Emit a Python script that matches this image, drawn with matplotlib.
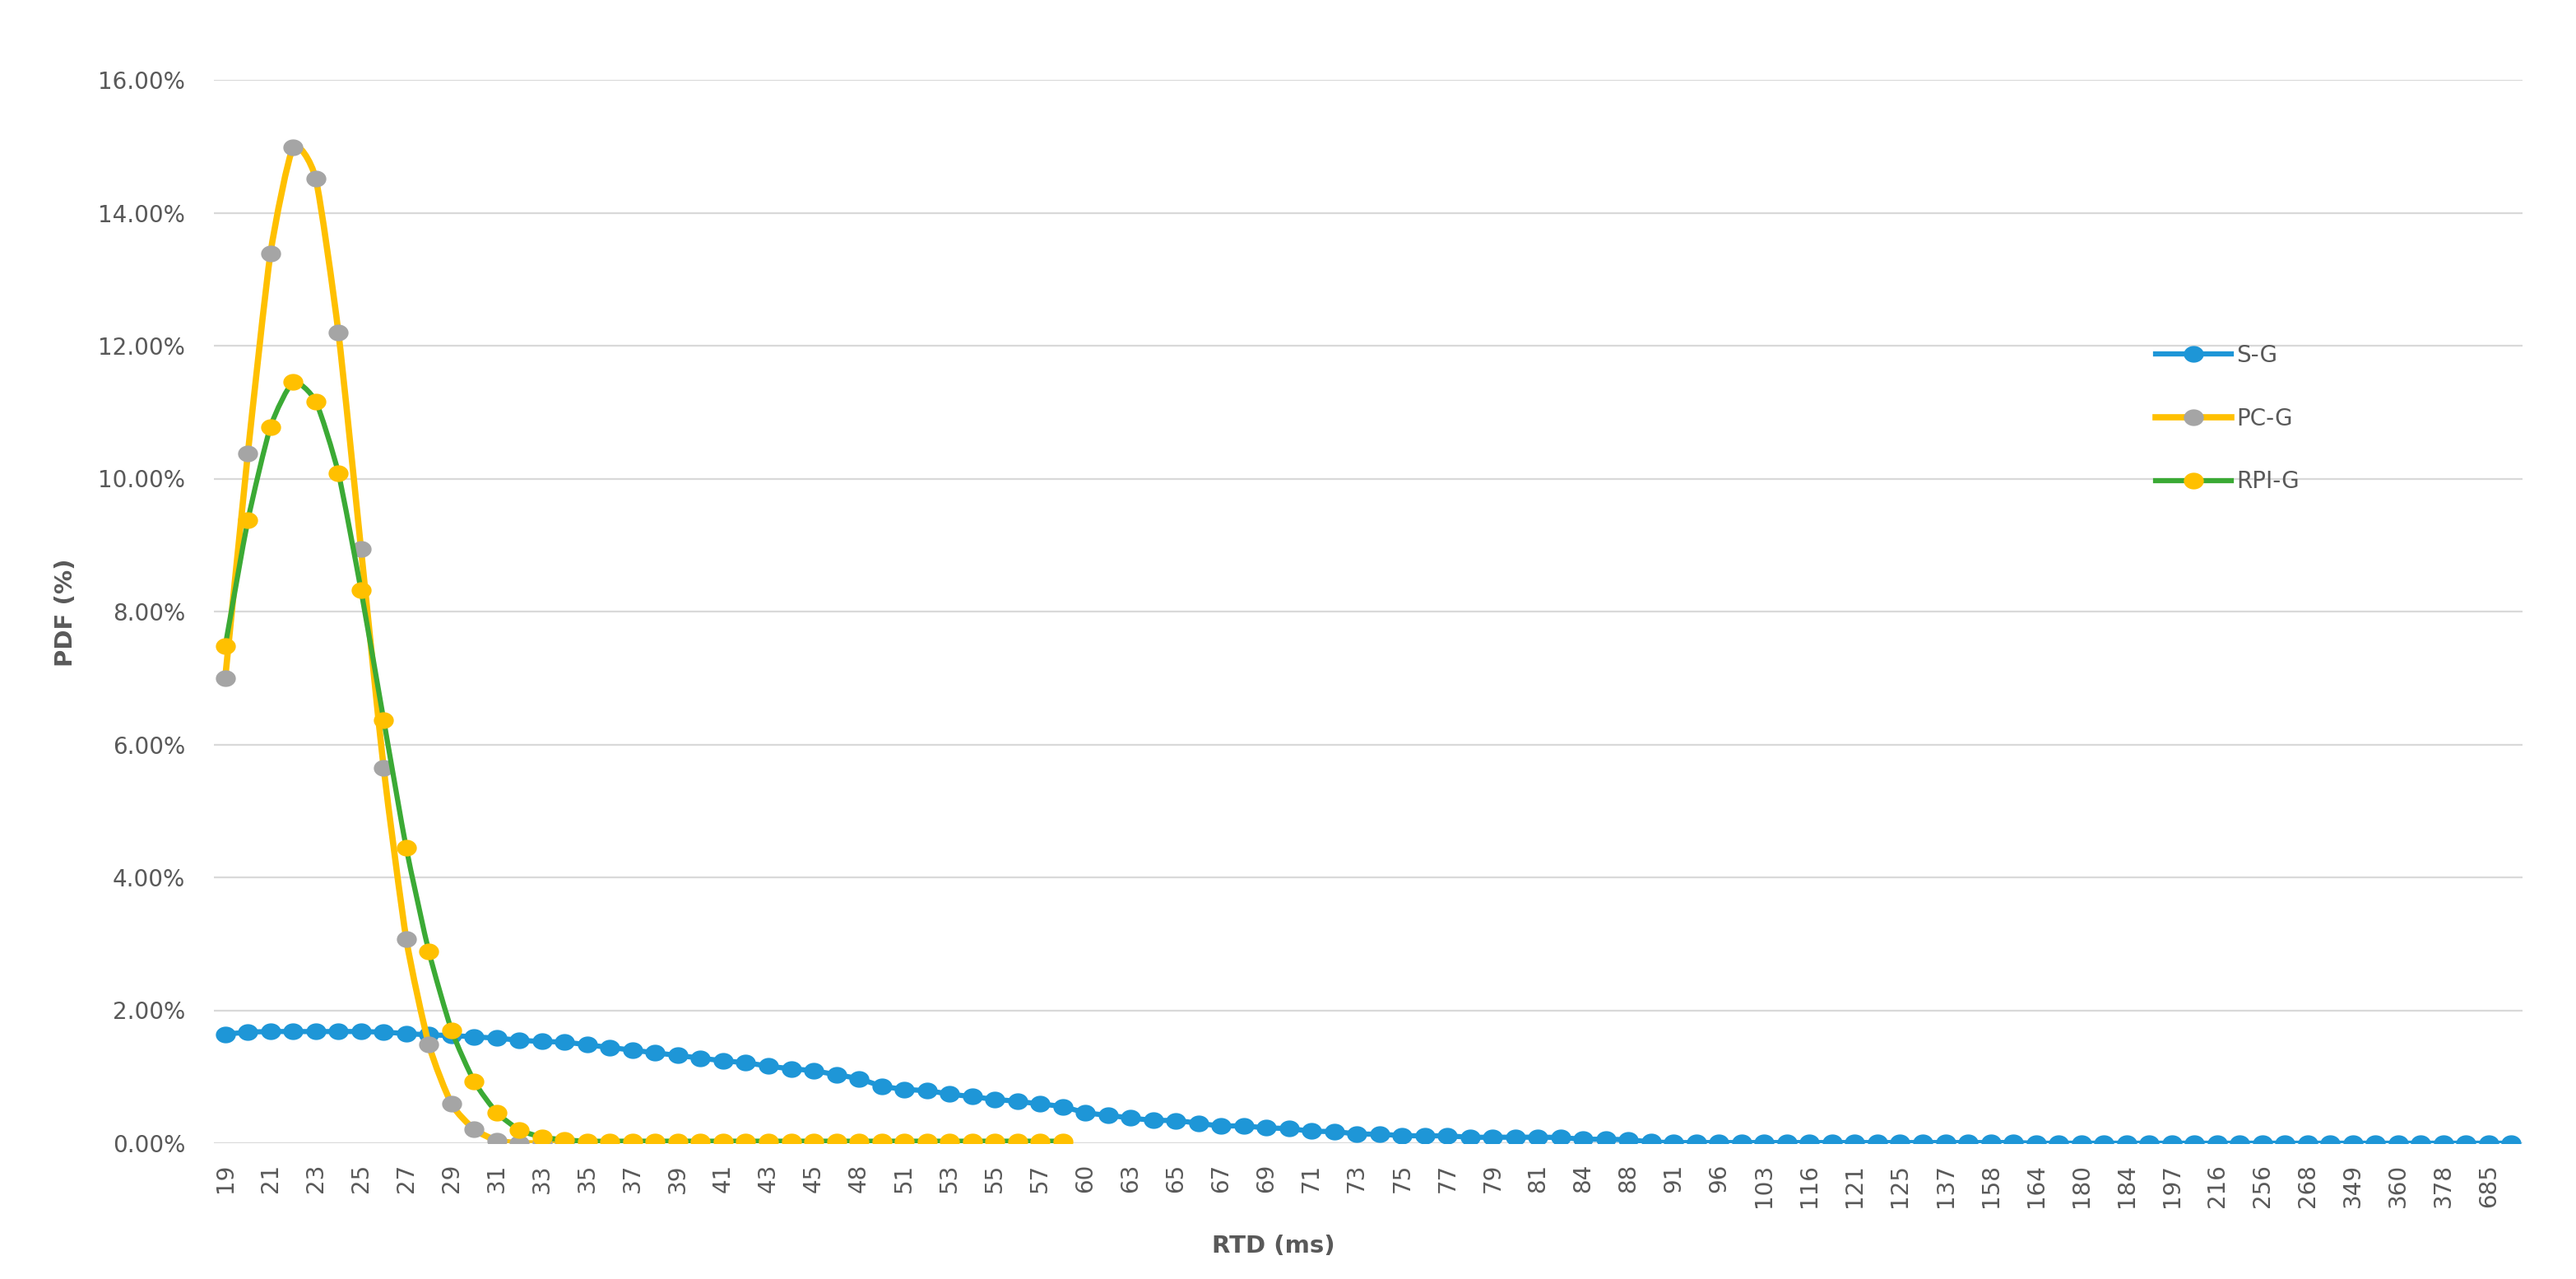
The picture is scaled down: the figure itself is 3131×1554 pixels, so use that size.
import matplotlib
matplotlib.use("Agg")
import matplotlib.pyplot as plt
from matplotlib.path import Path
from matplotlib.patches import PathPatch
from matplotlib.lines import Line2D
from matplotlib.ticker import FuncFormatter
import numpy as np

# ---------------- data ----------------
rtd_ms = [19, 20, 21, 22, 23, 24, 25, 26, 27, 28,
          29, 30, 31, 32, 33, 34, 35, 36, 37, 38,
          39, 40, 41, 42, 43, 44, 45, 46, 48, 50,
          51, 52, 53, 54, 55, 56, 57, 58, 60, 61,
          63, 64, 65, 66, 67, 68, 69, 70, 71, 72,
          73, 74, 75, 76, 77, 78, 79, 80, 81, 82,
          84, 86, 88, 89, 91, 94, 96, 99, 103, 109,
          116, 118, 121, 123, 125, 131, 137, 146, 158, 161,
          164, 171, 180, 182, 184, 190, 197, 205, 216, 238,
          256, 262, 268, 301, 349, 354, 360, 366, 378, 411,
          685, 1003]

s_g = [1.64, 1.67, 1.68, 1.68, 1.68, 1.68, 1.68, 1.67, 1.65, 1.63,
       1.62, 1.60, 1.58, 1.55, 1.53, 1.52, 1.48, 1.44, 1.40, 1.36,
       1.32, 1.28, 1.24, 1.21, 1.16, 1.12, 1.09, 1.03, 0.97, 0.86,
       0.81, 0.79, 0.74, 0.70, 0.66, 0.63, 0.59, 0.55, 0.46, 0.42,
       0.38, 0.345, 0.34, 0.30, 0.26, 0.26, 0.23, 0.22, 0.18, 0.175,
       0.14, 0.135, 0.115, 0.11, 0.11, 0.09, 0.09, 0.09, 0.09, 0.085,
       0.06, 0.06, 0.05, 0.02, 0.01, 0.01, 0.01, 0.01, 0.01, 0.01,
       0.01, 0.01, 0.01, 0.01, 0.01, 0.01, 0.01, 0.01, 0.01, 0.01,
       0.0, 0.0, 0.0, 0.0, 0.0, 0.0, 0.0, 0.0, 0.0, 0.0,
       0.0, 0.0, 0.0, 0.0, 0.0, 0.0, 0.0, 0.0, 0.0, 0.0,
       0.0, 0.0]

pc_g = [7.00, 10.38, 13.39, 14.98, 14.51, 12.20, 8.94, 5.65, 3.07, 1.48,
        0.59, 0.21, 0.04, 0.0, 0.0, 0.0]

rpi_g = [7.48, 9.37, 10.78, 11.45, 11.16, 10.08, 8.32, 6.37, 4.44, 2.88,
         1.70, 0.93, 0.46, 0.20, 0.09, 0.05, 0.03, 0.03, 0.03, 0.03,
         0.03, 0.03, 0.03, 0.03, 0.03, 0.03, 0.03, 0.03, 0.03, 0.03,
         0.03, 0.03, 0.03, 0.03, 0.03, 0.03, 0.03, 0.03]

series_names = ["S-G", "PC-G", "RPI-G"]
y_ticks = [0, 2, 4, 6, 8, 10, 12, 14, 16]
x_title = "RTD (ms)"
y_title = "PDF (%)"

# ---------------- styles ----------------
BLUE = "#1E96D7"
GOLD = "#FFC000"
GRAY = "#A5A5A5"
GREEN = "#3BAA35"
TXT = "#595959"
GRID = "#D9D9D9"

W, H = 3131, 1554
fig = plt.figure(figsize=(W / 100, H / 100), dpi=100)
ax = fig.add_axes([260 / W, 1 - 1389 / H, (3066 - 260) / W, (1389 - 97) / H])

# slightly wide elliptical marker (as in the reference)
_t = np.linspace(0, 2 * np.pi, 73)
ELLIPSE = Path(np.column_stack([1.2 * np.cos(_t), np.sin(_t)]), closed=True)


def smooth_path(xs, ys, k=10.0):
    pts = np.column_stack([np.asarray(xs, float), np.asarray(ys, float)])
    n = len(pts)
    verts = [pts[0]]
    codes = [Path.MOVETO]
    for i in range(n - 1):
        p0 = pts[i - 1] if i > 0 else pts[i]
        p1 = pts[i]
        p2 = pts[i + 1]
        p3 = pts[i + 2] if i + 2 < n else pts[i + 1]
        c1 = p1 + (p2 - p0) / k
        c2 = p2 - (p3 - p1) / k
        verts += [c1, c2, p2]
        codes += [Path.CURVE4] * 3
    return Path(verts, codes)


specs = [
    (s_g, BLUE, BLUE, 4.5, 2),
    (pc_g, GOLD, GRAY, 5.5, 3),
    (rpi_g, GREEN, GOLD, 4.5, 4),
]
MS = 17.5
handles = []
for vals, lc, mc, lw, z in specs:
    xs = np.arange(len(vals))
    patch = PathPatch(smooth_path(xs, vals), fill=False, edgecolor=lc, lw=lw,
                      capstyle="round", joinstyle="round", zorder=z)
    ax.add_patch(patch)
    ax.plot(xs, vals, linestyle="none", marker=ELLIPSE, ms=MS, mfc=mc, mec=mc,
            mew=0, zorder=z + 0.1)
    handles.append(Line2D([], [], color=lc, lw=lw, marker=ELLIPSE, ms=MS,
                          mfc=mc, mec=mc, mew=0))

ax.set_xlim(-0.5, len(rtd_ms) - 0.5)
ax.set_ylim(0, 16)
ax.set_yticks(y_ticks)
ax.yaxis.set_major_formatter(FuncFormatter(lambda v, p: f"{v:.2f}%"))
tick_idx = list(range(0, len(rtd_ms), 2))
ax.set_xticks(tick_idx)
ax.set_xticklabels([str(rtd_ms[i]) for i in tick_idx], rotation=90)
ax.tick_params(axis="x", length=0, pad=18, labelsize=20, labelcolor=TXT)
ax.tick_params(axis="y", length=0, pad=25, labelsize=20, labelcolor=TXT)
ax.yaxis.grid(True, color=GRID, lw=1.6)
ax.xaxis.grid(False)
ax.set_axisbelow(True)
for s in ax.spines.values():
    s.set_visible(False)

fig.text(1548 / W, 1 - 1514 / H, x_title, ha="center", va="center",
         fontsize=21, fontweight="bold", color=TXT)
fig.text(80 / W, 1 - 744 / H, y_title, ha="center", va="center",
         rotation=90, fontsize=21, fontweight="bold", color=TXT)

fig.legend(handles, series_names, loc="upper left",
           bbox_to_anchor=(2620 / W, 1 - 418 / H), frameon=False,
           fontsize=20, handlelength=3.3, handletextpad=0.25,
           labelspacing=1.75, borderpad=0, borderaxespad=0,
           labelcolor=TXT)

fig.savefig("out.png", dpi=100, facecolor="white")
